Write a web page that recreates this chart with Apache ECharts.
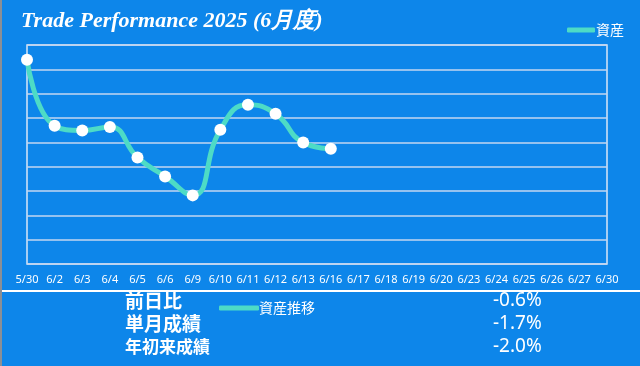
<!DOCTYPE html>
<html>
<head>
<meta charset="utf-8">
<script src="https://cdn.jsdelivr.net/npm/echarts@6/dist/echarts.min.js"></script>
<style>
html,body{margin:0;padding:0;background:#8a8f96;}
#c{position:absolute;left:2px;top:0;width:638px;height:366px;}
</style>
</head>
<body>
<div id="c"></div>
<script>
const categories = ['5/30','6/2','6/3','6/4','6/5','6/6','6/9','6/10','6/11','6/12','6/13','6/16','6/17','6/18','6/19','6/20','6/23','6/24','6/25','6/26','6/27','6/30'];
const assetValues = [8.39, 5.68, 5.49, 5.63, 4.38, 3.60, 2.82, 5.52, 6.54, 6.17, 4.99, 4.74];
const statLabels = ['前日比', '単月成績', '年初来成績'];
const statValues = ['-0.6%', '-1.7%', '-2.0%'];
const titleText = 'Trade Performance 2025 (6月度)';

const chart = echarts.init(document.getElementById('c'), null, {renderer: 'canvas'});
const bg = '#0d86ea';
const teal = '#4ddbc6';
const labelFont = '"Noto Sans CJK JP", "Noto Sans", sans-serif';

const statGraphics = [];
const statFont = [19, 19, 17];
const statY = [303, 326, 349];
statLabels.forEach((t, i) => {
  statGraphics.push({
    type: 'text', left: 123, top: statY[i] - statFont[i] / 2 - 2,
    style: {text: t, fill: '#ffffff', font: 'bold ' + statFont[i] + 'px ' + labelFont}
  });
});
statValues.forEach((t, i) => {
  statGraphics.push({
    type: 'text', left: 491, top: statY[i] - 12,
    style: {text: t, fill: '#ffffff', font: '19px "Noto Sans", "DejaVu Sans", sans-serif'}
  });
});

chart.setOption({
  backgroundColor: bg,
  animation: false,
  title: {
    text: titleText, left: 14, top: 5,
    textStyle: {color: '#ffffff', fontSize: 22, fontWeight: 'bold', fontStyle: 'italic', fontFamily: '"Liberation Serif", "DejaVu Serif", serif'}
  },
  legend: [
    {data: ['資産'], right: 11, top: 18, itemWidth: 28, itemHeight: 5, itemGap: 4,
     icon: 'roundRect', itemStyle: {color: teal},
     textStyle: {color: '#ffffff', fontSize: 14, fontFamily: labelFont, padding: [0,0,0,-4]}},
    {data: ['資産推移'], left: 212, top: 296, itemWidth: 40, itemHeight: 5,
     icon: 'roundRect', itemStyle: {color: teal},
     textStyle: {color: '#ffffff', fontSize: 14, fontFamily: labelFont, padding: [0,0,0,-5]}}
  ],
  grid: {left: 25, right: 33, top: 45, bottom: 102, show: true, borderColor: '#d9e6f7', borderWidth: 1.5},
  xAxis: {
    type: 'category', data: categories, boundaryGap: false,
    axisLine: {show: false}, axisTick: {show: false}, splitLine: {show: false},
    axisLabel: {color: '#ffffff', fontSize: 11, interval: 0, margin: 10, fontFamily: '"Noto Sans", "DejaVu Sans", sans-serif'}
  },
  yAxis: {
    type: 'value', min: 0, max: 9, interval: 1,
    axisLabel: {show: false}, axisLine: {show: false}, axisTick: {show: false},
    splitLine: {lineStyle: {color: '#c3d6f0', width: 1.5}}
  },
  series: [
    {name: '資産', type: 'line', data: assetValues, smooth: 0.5,
     symbol: 'circle', symbolSize: 12, showAllSymbol: true,
     lineStyle: {color: teal, width: 5}, itemStyle: {color: '#ffffff', borderWidth: 0},
     z: 3},
    {name: '資産推移', type: 'line', data: [], lineStyle: {color: teal, width: 5}, itemStyle: {color: teal}, symbol: 'none'}
  ],
  graphic: [
    {type: 'rect', left: 0, top: 290, shape: {width: 640, height: 2}, style: {fill: '#ffffff'}}
  ].concat(statGraphics)
});
</script>
</body>
</html>
